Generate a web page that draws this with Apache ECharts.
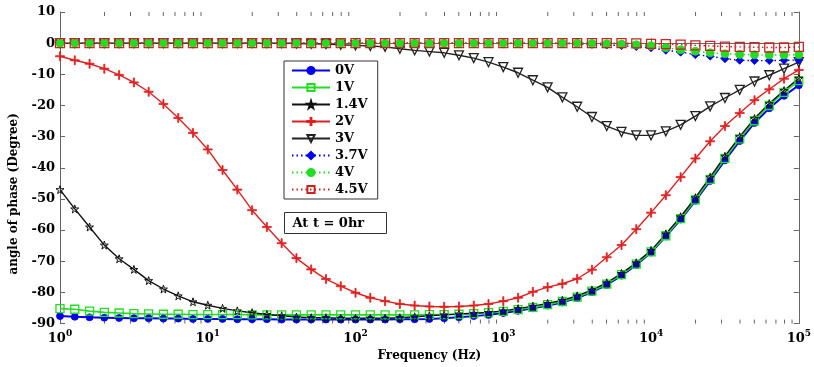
<!DOCTYPE html>
<html><head><meta charset="utf-8">
<script src="https://cdn.jsdelivr.net/npm/echarts@6/dist/echarts.min.js"></script>
<style>html,body{margin:0;padding:0;background:#fff}#c{width:814px;height:367px}</style>
</head><body><div id="c"></div>
<script>
// Frequency grid (Hz), 10 points per decade
const freq = [1, 1.259, 1.585, 1.995, 2.512, 3.162, 3.981, 5.012, 6.310, 7.943,
  10, 12.59, 15.85, 19.95, 25.12, 31.62, 39.81, 50.12, 63.10, 79.43,
  100, 125.9, 158.5, 199.5, 251.2, 316.2, 398.1, 501.2, 631.0, 794.3,
  1000, 1259, 1585, 1995, 2512, 3162, 3981, 5012, 6310, 7943,
  10000, 12589, 15849, 19953, 25119, 31623, 39811, 50119, 63096, 79433, 100000];

const v0 = [-87.6,-87.8,-88.0,-88.1,-88.2,-88.3,-88.3,-88.4,-88.4,-88.5,
  -88.5,-88.5,-88.6,-88.6,-88.6,-88.7,-88.7,-88.7,-88.7,-88.7,
  -88.7,-88.7,-88.7,-88.6,-88.6,-88.5,-88.3,-88.0,-87.6,-87.2,
  -86.6,-85.9,-85.1,-84.2,-83.2,-81.8,-79.9,-77.6,-74.6,-71.2,
  -67.2,-62.0,-56.6,-50.6,-44.2,-37.6,-31.4,-25.6,-20.9,-16.9,-13.5];
const v1 = [-85.2,-85.4,-86.0,-86.4,-86.6,-86.8,-86.9,-87.0,-87.0,-87.1,
  -87.1,-87.1,-87.1,-87.2,-87.2,-87.2,-87.2,-87.2,-87.2,-87.2,
  -87.2,-87.2,-87.2,-87.2,-87.2,-87.1,-87.1,-87.0,-86.8,-86.5,
  -86.1,-85.5,-84.8,-83.9,-82.9,-81.5,-79.6,-77.3,-74.3,-70.9,
  -67.0,-61.8,-56.3,-50.3,-43.7,-37.0,-30.7,-24.9,-20.0,-15.8,-12.0];
const v14 = [-47.0,-53.2,-59.0,-64.8,-69.2,-72.6,-76.2,-78.9,-81.1,-83.0,
  -84.1,-85.1,-85.9,-86.5,-87.1,-87.5,-87.9,-88.1,-88.1,-88.3,
  -88.3,-88.3,-88.3,-88.1,-87.8,-87.5,-87.2,-86.9,-86.7,-86.4,
  -85.9,-85.2,-84.4,-83.5,-82.5,-81.1,-79.2,-76.9,-73.9,-70.5,
  -66.5,-61.2,-55.7,-49.6,-43.0,-36.3,-30.0,-24.2,-19.4,-15.2,-11.3];
const v2 = [-4.2,-5.5,-6.6,-8.2,-10.2,-12.6,-15.6,-19.5,-24.0,-28.8,
  -34.1,-40.7,-47.0,-53.6,-59.0,-64.2,-69.0,-72.6,-75.7,-78.0,
  -80.1,-81.7,-82.8,-83.7,-84.2,-84.5,-84.6,-84.5,-84.2,-83.7,
  -82.8,-81.7,-79.8,-78.3,-77.2,-75.6,-72.7,-68.7,-64.8,-59.7,
  -54.4,-48.8,-43.0,-37.0,-31.5,-26.6,-22.4,-18.3,-14.8,-11.4,-8.6];
const v3 = [0,0,0,0,0,0,0,0,0,0,
  0,0,0,0,0,0,-0.1,-0.2,-0.3,-0.5,
  -0.7,-0.9,-1.2,-1.8,-2.3,-2.7,-3.1,-3.9,-4.8,-6.1,
  -7.7,-9.5,-11.9,-14.2,-17.4,-20.4,-23.7,-26.6,-28.5,-29.6,
  -29.6,-28.3,-26.2,-23.4,-20.3,-17.6,-15.0,-12.3,-10.3,-8.2,-6.1];
const v37 = [0,0,0,0,0,0,0,0,0,0,
  0,0,0,0,0,0,0,0,0,0,
  0,0,0,0,0,0,0,0,0,0,
  0,0,0,0,-0.1,-0.2,-0.4,-0.6,-0.8,-1.1,
  -1.5,-2.3,-2.9,-3.7,-4.2,-5.0,-5.5,-5.6,-5.6,-5.5,-5.4];
const v4 = [0,0,0,0,0,0,0,0,0,0,
  0,0,0,0,0,0,0,0,0,0,
  0,0,0,0,0,0,0,0,0,0,
  0,0,0,0,0,0,-0.1,-0.2,-0.3,-0.5,
  -0.8,-1.5,-2.1,-2.6,-3.1,-3.4,-3.6,-3.7,-3.8,-3.8,-3.7];
const v45 = [0,0,0,0,0,0,0,0,0,0,
  0,0,0,0,0,0,0,0,0,0,
  0,0,0,0,0,0,0,0,0,0,
  0,0,0,0,0,0,0,0,0,-0.1,
  -0.2,-0.3,-0.5,-0.7,-0.9,-1.1,-1.2,-1.3,-1.4,-1.4,-1.2];

const seriesNames = ['0V','1V','1.4V','2V','3V','3.7V','4V','4.5V'];
const yTicks = [-90,-80,-70,-60,-50,-40,-30,-20,-10,0,10];
const xTickExps = [0,1,2,3,4,5];

const FONT = 'DejaVu Serif';
const STAR = 'path://M50,0 L61,35 L98,35 L68,57 L79,91 L50,70 L21,91 L32,57 L2,35 L39,35 Z';
const PLUS = 'path://M44,0 H56 V44 H100 V56 H56 V100 H44 V56 H0 V44 H44 Z';

// minor tick positions of the log axis (2..9 x 10^k)
const minorTicks = [];
for (let k = 0; k < 5; k++) for (let m = 2; m <= 9; m++) minorTicks.push(m * Math.pow(10, k));

function pairs(v){ return freq.map((f,i)=>[f, v[i]]); }

function mk(name, vals, color, symbol, size, opts){
  opts = opts || {};
  return {
    name: name, type: 'line', data: pairs(vals),
    xAxisIndex: 0, yAxisIndex: 0,
    symbol: symbol, symbolSize: size, symbolRotate: opts.rotate || 0,
    showAllSymbol: true,
    lineStyle: {color: color, width: opts.lw || 1.4, type: opts.dotted ? [1.5, 3] : 'solid'},
    itemStyle: {color: opts.hollow ? 'rgba(255,255,255,0)' : color, borderColor: color, borderWidth: opts.hollow ? (opts.bw || 1.3) : 0.8},
    emphasis: {disabled: true},
    animation: false
  };
}

const chart = echarts.init(document.getElementById('c'), null, {renderer: 'canvas'});
const axisColor = '#666';
chart.setOption({
  backgroundColor: '#fff',
  animation: false,
  grid: {left: 54, right: 11, top: 12, bottom: 39},
  legend: {
    orient: 'vertical', left: 284, top: 61,
    data: seriesNames,
    itemWidth: 38, itemHeight: 9, itemGap: 2,
    padding: [2, 10, 2, 7],
    borderColor: '#333', borderWidth: 1, backgroundColor: '#fff',
    textStyle: {fontFamily: FONT, fontWeight: 'bold', fontSize: 13, lineHeight: 15, color: '#000'}
  },
  xAxis: [{
    type: 'log', logBase: 10, min: 1, max: 100000,
    position: 'bottom',
    name: 'Frequency (Hz)', nameLocation: 'middle', nameGap: 22,
    nameTextStyle: {fontFamily: FONT, fontWeight: 'bold', fontSize: 12, color: '#000'},
    axisLine: {lineStyle: {color: axisColor, width: 1}},
    axisTick: {inside: true, length: 5, lineStyle: {color: axisColor}},
    splitLine: {show: false},
    axisLabel: {
      margin: 6,
      formatter: function(v){ return '{b|10}{s|' + Math.round(Math.log10(v)) + '}'; },
      rich: {
        b: {fontFamily: FONT, fontWeight: 'bold', fontSize: 13, color: '#000'},
        s: {fontFamily: FONT, fontWeight: 'bold', fontSize: 9, color: '#000', padding: [0,0,9,0]}
      }
    }
  }, {
    type: 'log', logBase: 10, min: 1, max: 100000,
    position: 'top',
    axisLine: {show: true, lineStyle: {color: axisColor, width: 1}},
    axisTick: {inside: true, length: 5, lineStyle: {color: axisColor}},
    axisLabel: {show: false}, splitLine: {show: false}
  }],
  yAxis: [{
    type: 'value', min: -90, max: 10, interval: 10,
    name: 'angle of phase (Degree)', nameLocation: 'middle', nameGap: 40,
    nameTextStyle: {fontFamily: FONT, fontWeight: 'bold', fontSize: 12, color: '#000', padding: [0, 52, 0, 0]},
    axisLine: {show: true, lineStyle: {color: axisColor, width: 1}},
    axisTick: {inside: true, length: 5, lineStyle: {color: axisColor}},
    splitLine: {show: false},
    axisLabel: {margin: 5, fontFamily: FONT, fontWeight: 'bold', fontSize: 13, color: '#000',
      formatter: function(v){ return yTicks.indexOf(v) >= 0 ? String(v) : ''; }}
  }, {
    type: 'value', min: -90, max: 10, interval: 10, position: 'right',
    axisLine: {show: true, lineStyle: {color: axisColor, width: 1}},
    axisTick: {inside: true, length: 5, lineStyle: {color: axisColor}},
    axisLabel: {show: false}, splitLine: {show: false}
  }],
  graphic: [{
    type: 'group', left: 284, top: 212,
    children: [
      {type: 'rect', shape: {x: 0, y: 0, width: 102, height: 21}, style: {fill: '#fff', stroke: '#333', lineWidth: 1}},
      {type: 'text', x: 8, y: 11, style: {text: 'At t = 0hr', fontFamily: FONT, fontWeight: 'bold', fontSize: 13, fill: '#000', verticalAlign: 'middle'}}
    ]
  }],
  series: [
    {
      type: 'custom', name: '_minor', silent: true, xAxisIndex: 0, yAxisIndex: 0,
      data: minorTicks.map(f => [f]),
      renderItem: function(params, api){
        const b = api.coord([api.value(0), -90]);
        const t = api.coord([api.value(0), 10]);
        const st = {stroke: axisColor, lineWidth: 1};
        return {type: 'group', children: [
          {type: 'line', shape: {x1: b[0], y1: b[1], x2: b[0], y2: b[1] - 4}, style: st},
          {type: 'line', shape: {x1: t[0], y1: t[1], x2: t[0], y2: t[1] + 4}, style: st}
        ]};
      },
      animation: false, z: 1
    },
    mk('0V', v0, '#0000ee', 'circle', 7, {lw: 2}),
    mk('1V', v1, '#22dd22', 'rect', 8, {hollow: true, lw: 1.6}),
    mk('1.4V', v14, '#111111', STAR, 8, {hollow: true, bw: 1}),
    mk('2V', v2, '#e02020', PLUS, 9),
    mk('3V', v3, '#222222', 'triangle', 9, {hollow: true, rotate: 180}),
    mk('3.7V', v37, '#0000ee', 'diamond', 8, {dotted: true}),
    mk('4V', v4, '#22dd22', 'circle', 8, {dotted: true}),
    mk('4.5V', v45, '#cc2222', 'rect', 9, {hollow: true, dotted: true})
  ]
});
</script>
</body></html>
